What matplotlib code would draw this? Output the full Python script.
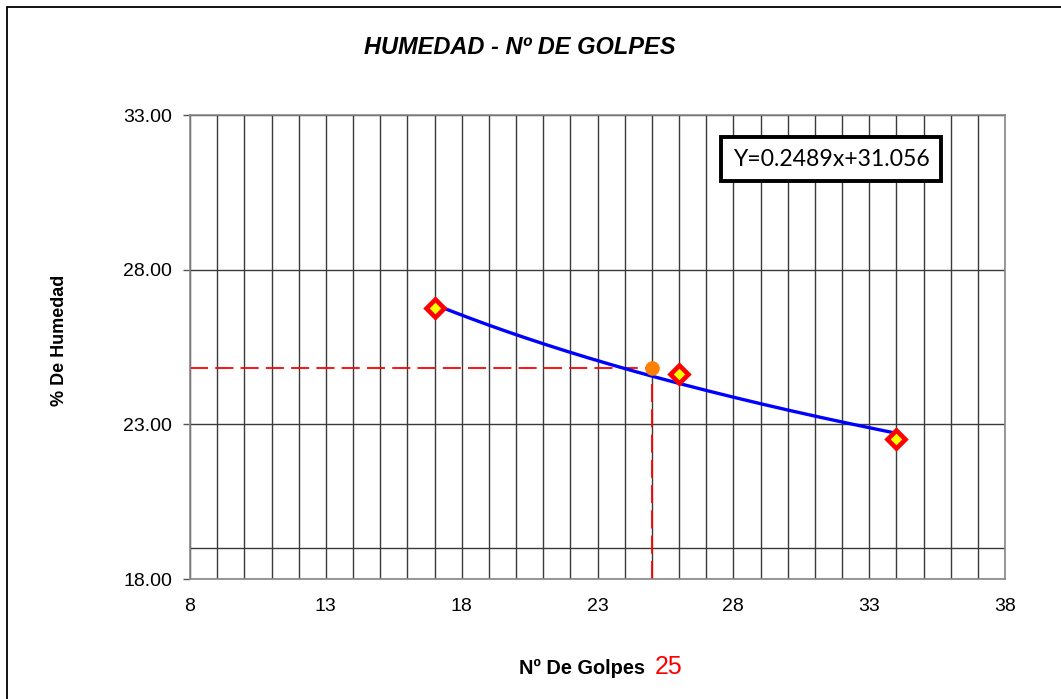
import numpy as np
import matplotlib
matplotlib.use("Agg")
import matplotlib.pyplot as plt
from matplotlib.patches import Rectangle

# Data
golpes = [17, 26, 34]
humedad = [26.76, 24.62, 22.53]
golpes_ref = 25
humedad_ref = 24.82
x_ticks = [8, 13, 18, 23, 28, 33, 38]
y_ticks = [18, 23, 28, 33]
y_grid = [18, 19, 23, 28, 33]
equation = "Y=0.2489x+31.056"

plt.rcParams['font.family'] = ['Liberation Sans', 'DejaVu Sans']

fig = plt.figure(figsize=(10.61, 6.99), dpi=100)
fig.patches.append(Rectangle((7/1061, -0.05), 1.1, 1 - 7/699 + 0.05,
                             transform=fig.transFigure, fill=False,
                             edgecolor='black', linewidth=1.3, zorder=0))

ax = fig.add_axes([190/1061, 1 - 579/699, (1005-190)/1061, (579-115)/699])
ax.set_xlim(8, 38)
ax.set_ylim(18, 33)

# grid
for xv in range(8, 39):
    ax.axvline(xv, color='#3a3a3a', linewidth=1.0, zorder=1)
for yv in y_grid:
    ax.axhline(yv, color='#3a3a3a', linewidth=1.0, zorder=1)

# trend (logarithmic fit)
coef = np.polyfit(np.log(golpes), humedad, 1)
xs = np.linspace(min(golpes), max(golpes), 200)
ax.plot(xs, coef[0]*np.log(xs) + coef[1], color='#0000FF', linewidth=2.4, zorder=3)

# reference dashed lines
ax.plot([8, golpes_ref], [humedad_ref, humedad_ref], color='#FF0000',
        linewidth=1.3, dashes=(10, 4), zorder=2)
ax.plot([golpes_ref, golpes_ref], [18, humedad_ref], color='#FF0000',
        linewidth=1.3, dashes=(10, 4), zorder=2)

ax.plot(golpes, humedad, linestyle='none', marker='D', markersize=9,
        markerfacecolor='#FFFF00', markeredgecolor='#FF0000', markeredgewidth=3.3, zorder=4)
ax.plot([golpes_ref], [humedad_ref], linestyle='none', marker='o', markersize=9.5,
        markerfacecolor='#FF7F00', markeredgecolor='#FF7F00', zorder=4)

ax.set_xticks(x_ticks)
ax.set_xticklabels([str(v) for v in x_ticks], fontsize=14)
ax.set_yticks(y_ticks)
ax.set_yticklabels([f"{v:.2f}" for v in y_ticks], fontsize=14)
ax.tick_params(axis='y', direction='out', length=5, width=1, color='#555555', pad=8)
ax.tick_params(axis='x', length=0, pad=13.5)
for s in ax.spines.values():
    s.set_color('#888888')
    s.set_linewidth(1.2)

fig.text(520/1061, 1 - 48/699, "HUMEDAD - Nº DE GOLPES", ha='center', va='center',
         fontsize=17, fontweight='bold', fontstyle='italic')
fig.text(60/1061, 1 - 340/699, "% De Humedad", rotation=90, ha='center', va='center',
         fontsize=13, fontweight='bold')
fig.text(645/1061, 1 - 668/699, "Nº De Golpes", ha='right', va='center',
         fontsize=14.4, fontweight='bold')
fig.text(655/1061, 1 - 667/699, str(golpes_ref), ha='left', va='center',
         fontsize=18, color='#FF0000')

fig.text(831/1061, 1 - 159/699, equation, ha='center', va='center', fontsize=16.6,
         family=['Lato', 'DejaVu Sans'],
         bbox=dict(boxstyle='square,pad=0.52', facecolor='white', edgecolor='black', linewidth=2.8))

fig.savefig("out.png", dpi=100)
